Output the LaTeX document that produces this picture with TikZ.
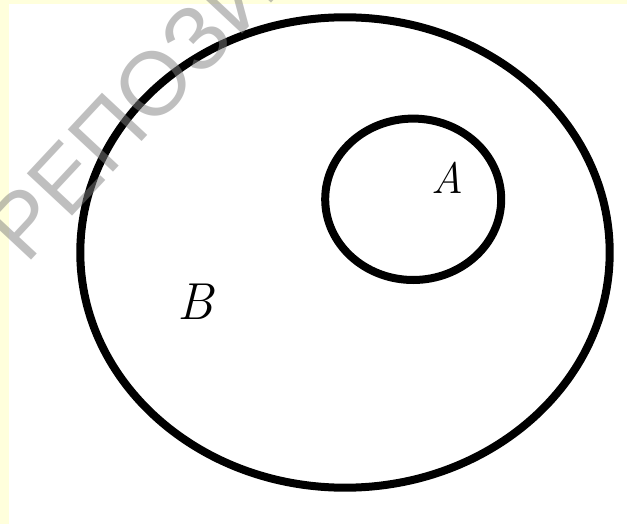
\documentclass[tikz,border=0pt]{standalone}
\usepackage{fontspec}
\newfontfamily\wmfont{Liberation Sans}
\definecolor{stripyellow}{HTML}{FFFFDC}
\definecolor{wmgray}{RGB}{128,128,128}
\tikzset{
  setline/.style={draw=black, line width=8pt},
  setlabel/.style={inner sep=0pt, text=black},
  watermark/.style={inner sep=0pt, text=wmgray, text opacity=0.5, anchor=base west}
}
\begin{document}
\begin{tikzpicture}[x=1pt,y=-1pt]
\useasboundingbox (0,0) rectangle (627,524);
\fill[white] (0,0) rectangle (627,524);
\fill[stripyellow] (0,0) rectangle (9,524);
\fill[stripyellow] (0,0) rectangle (627,4);
\coordinate (Bc) at (345,252.5);
\coordinate (Ac) at (413.2,199.3);
\draw[setline] (Bc) ellipse [x radius=264.7, y radius=235.2];
\draw[setline] (Ac) ellipse [x radius=88, y radius=80.7];
\node[setlabel] (A) at (447,178) {\fontsize{44}{44}\selectfont\itshape A};
\node[setlabel] (B) at (195,302) {\fontsize{52}{52}\selectfont\itshape B};
\begin{scope}
\clip (0,0) rectangle (627,524);
\node[watermark, rotate=47] (wm) at (26.4,265.6) {\fontsize{90}{90}\selectfont\wmfont РЕПОЗИТОРИЙ};
\end{scope}
\end{tikzpicture}
\end{document}
